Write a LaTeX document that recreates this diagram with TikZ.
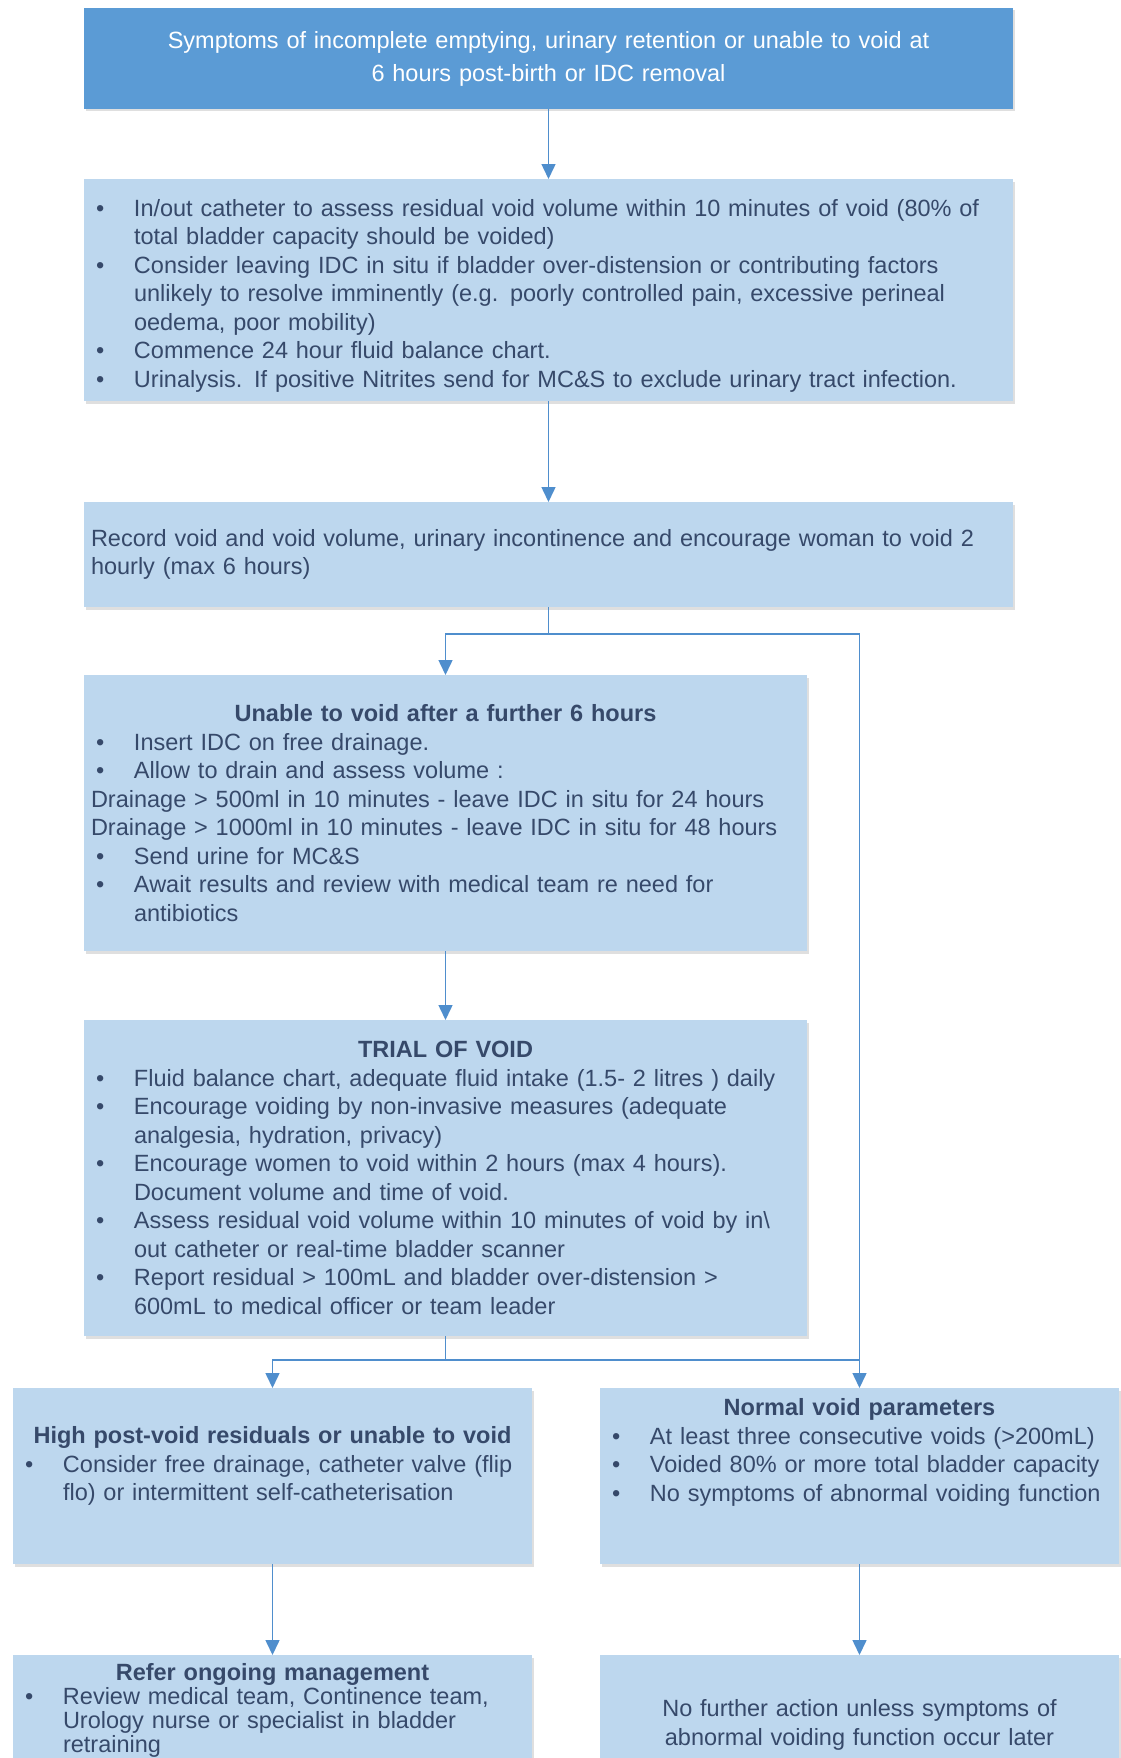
\documentclass[tikz,border=0pt]{standalone}
\usepackage{fontspec}
\setmainfont{Liberation Sans}
\usetikzlibrary{positioning}
\usetikzlibrary{arrows.meta}
\usetikzlibrary{shadows}
\definecolor{headblue}{HTML}{5B9BD5}
\definecolor{boxblue}{HTML}{BDD7EE}
\definecolor{inkblue}{HTML}{36496A}
\definecolor{lineblue}{HTML}{4F8ECD}
\newlength{\bulind}
\setlength{\bulind}{43pt}
% bullet line with hanging indent
\newcommand{\bitem}{\par\noindent\hangindent=\bulind\hangafter=1\makebox[\bulind][l]{\hspace{5pt}\textbullet}}
\newcommand{\btitle}[1]{{\centering\bfseries #1\par}}
\tikzset {
  % every box of the chart
  box/.style = {rectangle, fill=boxblue, text=inkblue, anchor=north west,
    inner xsep=7pt, inner ysep=0pt, outer sep=0pt, align=left,
    font=\fontsize{23.5}{28.5}\selectfont,
    drop shadow={shadow xshift=1.5pt, shadow yshift=-2.5pt, opacity=.25, fill=black!50}},
  % the first box
  head/.style = {box, fill=headblue, text=white, align=center,
    font=\fontsize{23.5}{33}\selectfont},
  % box widths
  widebox/.style = {text width=915pt, minimum width=929pt},
  midbox/.style = {text width=709pt, minimum width=723pt},
  halfbox/.style = {text width=505pt, minimum width=519pt},
  % connectors
  link/.style = {lineblue, line width=1.5pt},
  arr/.style = {link, -{Triangle[length=15pt, width=14pt]}},
}
\begin{document}
\begin{tikzpicture}[x=1pt, y=-1pt]
  \path[use as bounding box, fill=white] (0,0) rectangle (1120,1758);

  \node[head, widebox, minimum height=101pt] (symptoms) at (84,8)
    {Symptoms of incomplete emptying, urinary retention or unable to void at\\6 hours post-birth or IDC removal};
  \node[box, widebox, minimum height=222pt] (check) at (84,179) {%
    \bitem In/out catheter to assess residual void volume within 10 minutes of void (80\% of\newline total bladder capacity should be voided)
    \bitem Consider leaving IDC in situ if bladder over-distension or contributing factors\newline unlikely to resolve imminently (e.g. poorly controlled pain, excessive perineal\newline oedema, poor mobility)
    \bitem Commence 24 hour fluid balance chart.
    \bitem Urinalysis. If positive Nitrites send for MC\&S to exclude urinary tract infection.\par};
  \node[box, widebox, minimum height=105pt] (record) at (84,502)
    {Record void and void volume, urinary incontinence and encourage woman to void 2\newline hourly (max 6 hours)\par};
  \node[box, midbox, minimum height=276pt] (nosix) at (84,675) {%
    \btitle{Unable to void after a further 6 hours}
    \bitem Insert IDC on free drainage.
    \bitem Allow to drain and assess volume :
    \par\noindent Drainage > 500ml in 10 minutes - leave IDC in situ for 24 hours
    \par\noindent Drainage > 1000ml in 10 minutes - leave IDC in situ for 48 hours
    \bitem Send urine for MC\&S
    \bitem Await results and review with medical team re need for\newline antibiotics\par};
  \node[box, midbox, minimum height=316pt] (trial) at (84,1020) {%
    \btitle{TRIAL OF VOID}
    \bitem Fluid balance chart, adequate fluid intake (1.5- 2 litres ) daily
    \bitem Encourage voiding by non-invasive measures (adequate\newline analgesia, hydration, privacy)
    \bitem Encourage women to void within 2 hours (max 4 hours).\newline Document volume and time of void.
    \bitem Assess residual void volume within 10 minutes of void by in\textbackslash\newline out catheter or real-time bladder scanner
    \bitem Report residual > 100mL and bladder over-distension >\newline 600mL to medical officer or team leader\par};
  \node[box, halfbox, minimum height=176pt] (high) at (13,1388) {%
    \btitle{High post-void residuals or unable to void}
    \bitem Consider free drainage, catheter valve (flip\newline flo) or intermittent self-catheterisation
    \par\vspace*{20pt}};
  \node[box, halfbox, minimum height=176pt] (normal) at (600,1388) {%
    \btitle{Normal void parameters}
    \bitem At least three consecutive voids (>200mL)
    \bitem Voided 80\% or more total bladder capacity
    \bitem No symptoms of abnormal voiding function
    \par\vspace*{47pt}};
  \node[box, halfbox, minimum height=111pt, font=\fontsize{23.5}{24}\selectfont] (refer) at (13,1655) {%
    \btitle{Refer ongoing management}
    \bitem Review medical team, Continence team,\newline Urology nurse or specialist in bladder\newline retraining\par};
  \node[box, halfbox, minimum height=140pt, align=center] (noaction) at (600,1655)
    {No further action unless symptoms of\\abnormal voiding function occur later};

  \coordinate (split1) at (548.5,634);
  \coordinate (split2) at (445.5,1360);

  \draw[arr] (symptoms) -- (check);
  \draw[arr] (check) -- (record);
  \draw[link] (record) -- (split1);
  \draw[arr] (split1) -| (nosix.north);
  \draw[arr] (split1) -| (normal.north);
  \draw[arr] (nosix) -- (trial);
  \draw[link] (trial) -- (split2);
  \draw[arr] (split2) -| (high.north);
  \draw[link] (split2) -- (split2 -| normal.north);
  \draw[arr] (high) -- (refer);
  \draw[arr] (normal) -- (noaction);
\end{tikzpicture}
\end{document}
